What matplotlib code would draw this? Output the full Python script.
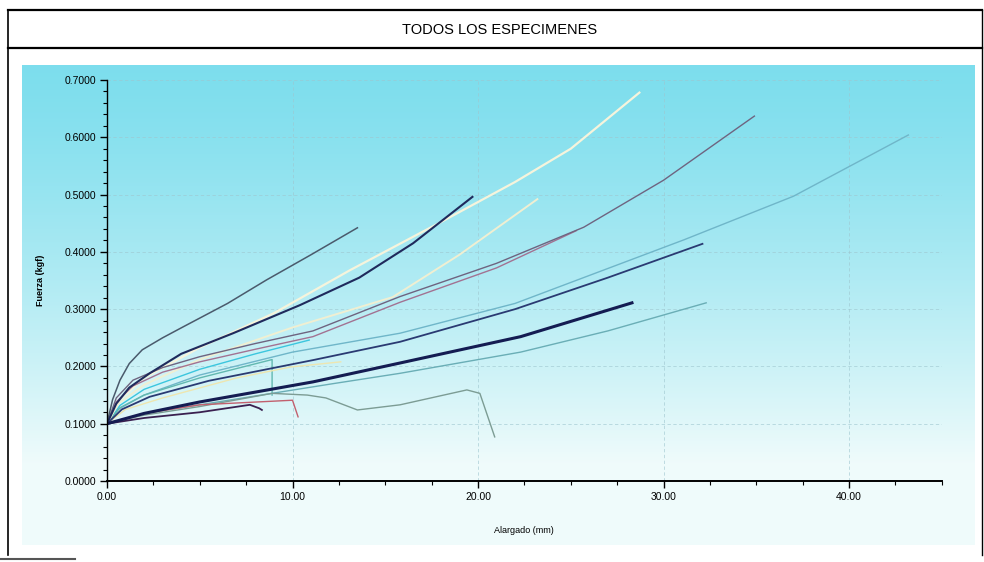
import matplotlib
matplotlib.use("Agg")
import matplotlib.pyplot as plt
import numpy as np

plt.rcParams['font.family'] = ['Liberation Sans', 'DejaVu Sans']

titulo = "TODOS LOS ESPECIMENES"
x_label = "Alargado (mm)"
y_label = "Fuerza (kgf)"
x_ticks = [0, 10, 20, 30, 40]
x_tick_labels = ["0.00", "10.00", "20.00", "30.00", "40.00"]
y_ticks = [0.0, 0.1, 0.2, 0.3, 0.4, 0.5, 0.6, 0.7]
y_tick_labels = ["0.0000", "0.1000", "0.2000", "0.3000", "0.4000", "0.5000", "0.6000", "0.7000"]

# curvas (alargado mm, fuerza kgf)
esp_a_x = [0, 0.3, 0.7, 1.2, 1.9, 3.0, 4.1, 6.5, 8.6, 11.0, 13.5]
esp_a_y = [0.100, 0.142, 0.176, 0.205, 0.229, 0.250, 0.269, 0.310, 0.351, 0.395, 0.442]
esp_b_x = [0, 0.5, 1.2, 2.3, 4.0, 6.8, 10.4, 13.6, 16.5, 19.7]
esp_b_y = [0.100, 0.135, 0.163, 0.188, 0.222, 0.258, 0.307, 0.355, 0.415, 0.496]
esp_c_x = [0, 0.6, 2.0, 5.0, 9.0, 13.1, 18.0, 22.0, 25.0, 28.7]
esp_c_y = [0.100, 0.140, 0.180, 0.233, 0.293, 0.368, 0.452, 0.522, 0.580, 0.678]
esp_d_x = [0, 0.6, 2.0, 5.0, 10.0, 15.4, 19.0, 23.2]
esp_d_y = [0.100, 0.135, 0.168, 0.212, 0.268, 0.321, 0.395, 0.492]
esp_e1_x = [0, 0.5, 1.4, 3.0, 5.0, 8.0, 11.1, 15.8, 21.0, 25.7, 30.0, 34.9]
esp_e1_y = [0.100, 0.145, 0.176, 0.198, 0.217, 0.240, 0.262, 0.322, 0.380, 0.443, 0.525, 0.637]
esp_e2_x = [0, 0.5, 1.4, 3.0, 5.0, 8.0, 11.1, 15.8, 21.0, 25.3]
esp_e2_y = [0.100, 0.138, 0.166, 0.190, 0.208, 0.230, 0.252, 0.312, 0.372, 0.437]
esp_f_x = [0, 0.6, 2.0, 5.0, 10.0, 15.8, 22.0, 31.1, 37.0, 43.2]
esp_f_y = [0.100, 0.125, 0.150, 0.185, 0.225, 0.258, 0.310, 0.421, 0.497, 0.604]
esp_g_x = [0, 0.8, 2.3, 5.5, 11.1, 15.8, 22.0, 27.0, 32.1]
esp_g_y = [0.100, 0.125, 0.147, 0.175, 0.211, 0.243, 0.300, 0.355, 0.414]
esp_h_x = [0, 2.0, 5.0, 11.1, 15.8, 22.3, 28.3]
esp_h_y = [0.100, 0.118, 0.138, 0.173, 0.206, 0.252, 0.311]
esp_i_x = [0, 2.0, 5.0, 12.2, 15.8, 22.3, 27.0, 32.3]
esp_i_y = [0.100, 0.118, 0.133, 0.170, 0.188, 0.225, 0.262, 0.311]
esp_j_x = [0, 2.0, 5.0, 8.9, 10.8, 11.8, 13.5, 15.8, 19.4, 20.1, 20.9]
esp_j_y = [0.100, 0.115, 0.130, 0.153, 0.150, 0.145, 0.124, 0.133, 0.159, 0.153, 0.077]
esp_k_x = [0, 0.7, 2.0, 5.0, 8.9, 8.9]
esp_k_y = [0.100, 0.128, 0.150, 0.180, 0.212, 0.150]
esp_l_x = [0, 0.7, 2.0, 5.0, 8.0, 10.9]
esp_l_y = [0.100, 0.132, 0.160, 0.195, 0.222, 0.246]
esp_m_x = [0, 2.0, 5.0, 10.0, 10.3]
esp_m_y = [0.100, 0.118, 0.133, 0.141, 0.112]
esp_n_x = [0, 2.0, 5.0, 7.7, 8.2, 8.35]
esp_n_y = [0.100, 0.110, 0.120, 0.133, 0.127, 0.124]
esp_p_x = [0, 1.0, 3.0, 7.0, 9.9, 12.6]
esp_p_y = [0.100, 0.125, 0.145, 0.180, 0.199, 0.208]

W, H = 984, 562
fig = plt.figure(figsize=(W / 100, H / 100), dpi=100)

# fondo: marco, titulo y degradado cian
bg = fig.add_axes([0, 0, 1, 1])
bg.set_xlim(0, W)
bg.set_ylim(H, 0)
bg.axis("off")
grad = np.linspace(0, 1, 256)[:, None]
top = np.array([0.49, 0.87, 0.93])
bot = np.array([0.94, 0.985, 0.985])
t = np.clip(grad * 1.2, 0, 1) ** 1.3
img = top[None, None, :] * (1 - t[:, :, None]) + bot[None, None, :] * t[:, :, None]
bg.imshow(img, extent=[22, 975, 545, 65], aspect="auto", interpolation="bilinear")
bg.plot([8, 982], [10, 10], color="black", lw=1.6)
bg.plot([8, 982], [48, 48], color="black", lw=1.6)
bg.plot([8, 8], [10, 555], color="black", lw=1.2)
bg.plot([982, 982], [10, 555], color="black", lw=1.0)
bg.plot([0, 75], [559, 559], color="#555555", lw=1.5)
bg.text(500, 30, titulo, ha="center", va="center", fontsize=10.5)

ax = fig.add_axes([107 / W, (H - 481) / H, 834.75 / W, 401 / H])
ax.patch.set_alpha(0)
ax.set_xlim(0, 45)
ax.set_ylim(0, 0.7)

for s in ["top", "right"]:
    ax.spines[s].set_visible(False)
ax.spines["left"].set_linewidth(1.0)
ax.spines["bottom"].set_linewidth(1.4)

ax.set_xticks(x_ticks)
ax.set_xticklabels(x_tick_labels, fontsize=7.5)
ax.set_yticks(y_ticks)
ax.set_yticklabels(y_tick_labels, fontsize=7.5)
ax.set_xticks(np.arange(0, 45.1, 2.5), minor=True)
ax.set_yticks(np.arange(0, 0.701, 0.02), minor=True)
ax.tick_params(which="major", length=5, width=1, pad=3)
ax.tick_params(which="minor", length=3, width=0.8)
ax.grid(True, which="major", color="#9ec6cf", lw=0.6, ls=(0, (4, 3)), alpha=0.7)

ax.set_xlabel(x_label, fontsize=6.5, labelpad=17)
ax.set_ylabel(y_label, fontsize=6.5, labelpad=14, fontweight="bold")

curvas = [
    (esp_f_x, esp_f_y, "#6fb6c9", 1.0),
    (esp_i_x, esp_i_y, "#6aaeb6", 1.0),
    (esp_l_x, esp_l_y, "#3cc6de", 1.0),
    (esp_k_x, esp_k_y, "#62b8b0", 1.0),
    (esp_j_x, esp_j_y, "#7c9c94", 1.0),
    (esp_p_x, esp_p_y, "#eee6b0", 1.0),
    (esp_c_x, esp_c_y, "#f6f4dc", 1.6),
    (esp_d_x, esp_d_y, "#f0efd2", 1.4),
    (esp_e2_x, esp_e2_y, "#a27292", 1.0),
    (esp_e1_x, esp_e1_y, "#6e6480", 1.0),
    (esp_a_x, esp_a_y, "#4a5a6c", 1.1),
    (esp_b_x, esp_b_y, "#1f2a5c", 1.5),
    (esp_g_x, esp_g_y, "#2a3a72", 1.3),
    (esp_m_x, esp_m_y, "#c2606e", 1.0),
    (esp_n_x, esp_n_y, "#3a2050", 1.3),
    (esp_h_x, esp_h_y, "#141c52", 2.2),
]
for cx, cy, col, lw in curvas:
    ax.plot(cx, cy, color=col, lw=lw)

fig.savefig("out.png", dpi=100)
